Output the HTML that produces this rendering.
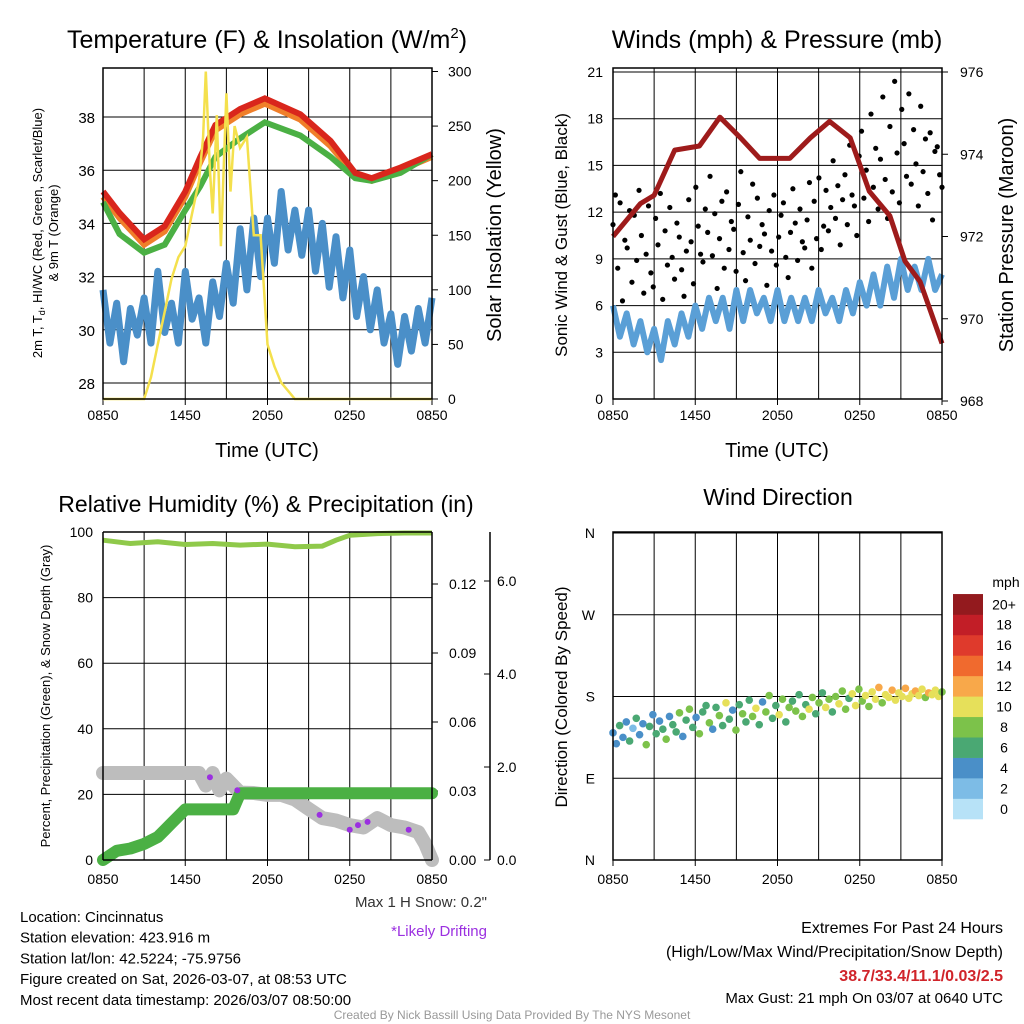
<!DOCTYPE html>
<html><head><meta charset="utf-8">
<style>
html,body{margin:0;padding:0;background:#fff;}
svg{display:block;font-family:"Liberation Sans",Arial,sans-serif;}
</style></head>
<body>
<svg id="c" width="1024" height="1024" viewBox="0 0 1024 1024" xmlns="http://www.w3.org/2000/svg">
<rect width="1024" height="1024" fill="#fff"/>
<g id="g"></g>
</svg>
<script>
// ---- data (hours since 0850 UTC, 0..24) ----
const xTicks=["0850","1450","2050","0250","0850"];
const tempTicks=[28,30,32,34,36,38];
const solarTicks=[0,50,100,150,200,250,300];
const tempT=[0,1.2,3,4.5,6,7.1,8.2,10,11.8,14.4,16.6,18.4,19.6,21.7,24];
const tempRed=[35.2,34.4,33.4,33.9,35.2,36.5,37.7,38.3,38.7,38.1,37.1,35.9,35.7,36.1,36.6];
const tempOrange=[35.0,34.2,33.2,33.7,35.0,36.3,37.5,38.1,38.5,37.9,36.9,35.8,35.6,36.0,36.5];
const tempGreen=[34.8,33.6,32.9,33.2,34.5,35.4,36.5,37.2,37.8,37.3,36.5,35.7,35.6,35.9,36.6];
const dewT=[31.5,29.5,31,28.8,30.8,29.8,31.2,29.5,32.2,29.9,31,29.5,32.2,30.4,31.2,29.5,31.8,30.5,32.5,31,33.8,31.5,34.2,32,34.2,32.5,35.2,33,34.5,32.8,34.5,32.2,34,31.6,33.5,31.2,33,30.5,32,30,31.5,29.5,30.6,28.7,30.5,29.2,30.8,29.5,31.2];
const solarT=[0,3,3.5,4,4.5,5,5.5,6,6.5,7,7.3,7.5,7.8,8,8.3,8.6,9,9.3,9.6,10,10.5,11,11.5,12,12.5,13,14,24];
const solar=[0,0,20,50,80,110,130,140,170,200,240,300,210,170,260,140,280,190,250,230,240,150,150,50,30,15,0,0];
const windTicks=[0,3,6,9,12,15,18,21];
const presTicks=[968,970,972,974,976];
const windSpd=[6,4,5.5,3.5,5,3,4.5,2.5,5,3.5,5.5,4,6,4.5,6.5,5,6.5,4.5,7,5,7,5.5,6.5,5,7,5,6.5,5,6.5,5,7,5.5,6.5,5,7,5.5,7.5,6,8,6,8.5,6.5,9,7,8.5,7,9,7,8];
const gusts=[11.2,13.1,8.4,12.6,6.3,10.2,9.7,12.1,7.5,11.8,8.9,13.4,10.5,6.8,9.3,12.4,8.1,7.2,11.6,9.9,13.2,6.4,10.8,8.6,12.3,9.1,7.7,11.3,10.4,8.3,6.6,9.5,12.8,10.1,7.4,13.6,11.1,9.3,8.8,12.2,10.7,14.3,9.2,11.9,7.1,10.3,12.7,8.4,13.3,9.6,11.4,10.9,8.2,12.5,14.6,9.4,7.6,11.7,10.2,13.8,8.7,12.9,9.8,11.2,10.6,7.3,12.1,9.5,13.1,8.6,10.4,11.8,12.6,9.1,7.8,10.7,13.5,11.3,8.9,12.2,10.1,9.7,11.5,13.9,8.4,12.7,10.3,14.2,9.6,11.1,13.4,10.8,12.3,15.3,11.6,13.7,9.9,12.8,14.4,11.2,16.3,13.1,12.4,10.5,15.6,17.2,12.9,14.7,11.4,18.3,13.6,16.1,12.2,15.4,19.4,14.1,11.6,17.5,13.3,20.4,15.8,12.6,18.6,16.4,14.3,19.6,13.8,17.3,15.1,12.4,18.8,14.6,16.7,13.2,17.1,11.5,15.9,16.2,14.4,13.6];
const presT=[0,2,3,4.5,6.3,7.8,9.3,10.7,12.9,14.4,15.8,17.3,18.7,20.2,21.3,22.4,24];
const pres=[972.0,972.8,973.0,974.1,974.2,974.9,974.4,973.9,973.9,974.4,974.8,974.4,973.1,972.5,971.4,970.9,969.4];
const rhTicks=[0,20,40,60,80,100];
const precipTicks=["0.00","0.03","0.06","0.09","0.12"];
const snowTicks=["0.0","2.0","4.0","6.0"];
const rhT=[0,2,4,6,8,10,12,14,16,17,18,20,22,24];
const rh=[97.5,96.5,97,96.2,96.5,96,96.3,95.5,95.7,97.5,99,99.5,99.7,99.7];
const precipT=[0,0.5,1,2,3,4,4.5,5,6,9.5,10,24];
const precip=[0,0.002,0.004,0.005,0.007,0.01,0.013,0.016,0.022,0.022,0.029,0.029];
const snowT=[0,7,7.5,8,8.5,9,10,11,12,13,14,15,16,17,18,19,20,21,22,23,23.5,24];
const snow=[1.87,1.87,1.6,1.87,1.5,1.75,1.45,1.44,1.4,1.4,1.3,1.1,0.9,0.85,0.75,0.7,0.9,0.75,0.7,0.6,0.35,0.0];
const driftT=[7.8,9.8,15.8,18.0,18.6,19.3,22.3];
const driftV=[1.78,1.5,0.97,0.65,0.75,0.82,0.65];
const dirTicks=["N","E","S","W","N"];
const dirs=[140,128,148,135,152,131,145,156,138,150,127,147,160,139,153,144,133,158,149,141,162,136,154,166,146,157,139,163,170,151,144,168,159,148,173,155,165,143,171,161,152,176,158,167,149,174,163,181,156,170,160,177,152,168,175,164,182,158,171,166,179,161,173,184,168,177,163,180,172,186,166,178,183,170,188,175,181,169,185,177,190,173,182,179,187,176,184,180,189,178,183,186,181,188,179,184,182,187,180,185];
const spds=[4,3,5,4,3,5,2,6,3,4,7,5,4,6,3,5,8,4,6,5,7,4,6,8,5,3,7,6,5,8,4,6,7,5,9,6,4,7,5,8,6,5,7,9,6,4,8,7,5,6,9,7,5,8,6,7,5,8,6,9,7,5,8,6,9,7,6,8,9,7,8,6,9,10,8,7,9,8,10,9,11,8,10,9,11,10,9,10,11,9,10,11,9,10,8,11,9,10,9,8];
const cbLabels=["0","2","4","6","8","10","12","14","16","18","20+"];
const cbColors=["#b7e2f7","#7dbce6","#4a8fc8","#4aa873","#7cc24a","#e6e05a","#f8a84a","#f06a2e","#df3a2c","#c21e27","#931a1e"];

const NS="http://www.w3.org/2000/svg";
const G=document.getElementById('g');
function el(tag,attrs,parent){const e=document.createElementNS(NS,tag);for(const k in attrs)e.setAttribute(k,attrs[k]);(parent||G).appendChild(e);return e;}
function txt(s,x,y,size,anchor,extra){const e=el('text',Object.assign({x:x,y:y,'font-size':size,'text-anchor':anchor||'start',fill:'#000'},extra||{}));e.textContent=s;return e;}
function lin(a,b,c,d){return v=>c+(v-a)*(d-c)/(b-a);}
function poly(ts,vs,fx,fy){return ts.map((t,i)=>fx(t).toFixed(1)+','+fy(vs[i]).toFixed(1)).join(' ');}
function idx(n){return Array.from({length:n},(_,i)=>i*24/(n-1));}

function frame(x0,y0,x1,y1,name){
  const f=el('rect',{x:x0,y:y0,width:x1-x0,height:y1-y0,fill:'none',stroke:'#000','stroke-width':1.5});
  
  
}
function xAxis(x0,x1,y1,y0,labelY){
  const fx=lin(0,24,x0,x1);
  for(let h=3;h<24;h+=3){el('line',{x1:fx(h),x2:fx(h),y1:y0,y2:y1,stroke:'#000','stroke-width':1});}
  xTicks.forEach((s,i)=>{const t=txt(s,fx(i*6),labelY,14,'middle');
    
    
    el('line',{x1:fx(i*6),x2:fx(i*6),y1:y1,y2:y1+6,stroke:'#000'});});
  return fx;
}

// ===== Panel 1 =====
(function(){
  const x0=103,x1=432,y0=68,y1=399;
  const fx=xAxis(x0,x1,y1,y0,420);
  const fy=lin(28,38,383,117);
  const fs=lin(0,300,399,71.5);
  tempTicks.forEach(v=>{el('line',{x1:x0,x2:x1,y1:fy(v),y2:fy(v),stroke:'#000'});
    const t=txt(String(v),x0-8,fy(v)+6,15,'end');});
  solarTicks.forEach(v=>{const t=txt(String(v),x1+16,fs(v)+5,14,'start');
    el('line',{x1:x1,x2:x1+6,y1:fs(v),y2:fs(v),stroke:'#000'});});
  const d=el('polyline',{points:poly(idx(dewT.length),dewT,fx,fy),fill:'none',stroke:'#4a8fc8','stroke-width':7,'stroke-linejoin':'round'});
  
  const o=el('polyline',{points:poly(tempT,tempOrange,fx,fy),fill:'none',stroke:'#f07f2a','stroke-width':6});
  
  const g=el('polyline',{points:poly(tempT,tempGreen,fx,fy),fill:'none',stroke:'#4bb044','stroke-width':6});
  
  const r=el('polyline',{points:poly(tempT,tempRed,fx,fy),fill:'none',stroke:'#d9261c','stroke-width':6});
  
  const s=el('polyline',{points:poly(solarT,solar,fx,fs),fill:'none',stroke:'#f4e04d','stroke-width':2.5});
  
  frame(x0,y0,x1,y1,'temperature-plot-frame');
  const tt=el('text',{x:267,y:48,'font-size':25,'text-anchor':'middle'});tt.innerHTML='Temperature (F) &amp; Insolation (W/m<tspan dy="-10" font-size="15">2</tspan><tspan dy="10">)</tspan>';
  
  const xl=txt('Time (UTC)',267,457,20,'middle');
  const yl=el('text',{transform:'translate(42,233) rotate(-90)','font-size':13,'text-anchor':'middle'});
  yl.innerHTML='2m T, T<tspan dy="3" font-size="9">d</tspan><tspan dy="-3">, HI/WC (Red, Green, Scarlet/Blue)</tspan>';
  
  const yl2=txt('& 9m T (Orange)',0,0,13,'middle',{transform:'translate(58,233) rotate(-90)'});
  
  const yr=txt('Solar Insolation (Yellow)',0,0,20,'middle',{transform:'translate(501,235) rotate(-90)'});
  
})();

// ===== Panel 2 =====
(function(){
  const x0=613,x1=942,y0=68,y1=399;
  const fx=xAxis(x0,x1,y1,y0,420);
  const fy=lin(0,21,399,72);
  const fp=lin(968,976,401,72);
  windTicks.forEach(v=>{el('line',{x1:x0,x2:x1,y1:fy(v),y2:fy(v),stroke:'#000'});
    const t=txt(String(v),x0-10,fy(v)+5,14,'end');});
  presTicks.forEach(v=>{const t=txt(String(v),x1+18,fp(v)+5,14,'start');
    el('line',{x1:x1,x2:x1+6,y1:fp(v),y2:fp(v),stroke:'#000'});});
  const w=el('polyline',{points:poly(idx(windSpd.length),windSpd,fx,fy),fill:'none',stroke:'#5a9fd6','stroke-width':6,'stroke-linejoin':'round'});
  
  const gt=idx(gusts.length);
  gusts.forEach((v,i)=>{const c=el('circle',{cx:fx(gt[i]),cy:fy(v),r:2.6,fill:'#000'});
    });
  const p=el('polyline',{points:poly(presT,pres,fx,fp),fill:'none',stroke:'#9e1b1b','stroke-width':5,'stroke-linejoin':'round'});
  
  frame(x0,y0,x1,y1,'winds-plot-frame');
  const t=txt('Winds (mph) & Pressure (mb)',777,48,25,'middle');
  const xl=txt('Time (UTC)',777,457,20,'middle');
  const yl=txt('Sonic Wind & Gust (Blue, Black)',0,0,17,'middle',{transform:'translate(567,235) rotate(-90)'});
  
  const yr=txt('Station Pressure (Maroon)',0,0,20,'middle',{transform:'translate(1013,235) rotate(-90)'});
  
})();

// ===== Panel 3 =====
(function(){
  const x0=103,x1=432,y0=532,y1=860;
  const fx=xAxis(x0,x1,y1,y0,884);
  const fy=lin(0,100,860,532);
  const fpr=lin(0,0.03,860,791);
  const fsn=lin(0,2,860,767);
  rhTicks.forEach(v=>{el('line',{x1:x0,x2:x1,y1:fy(v),y2:fy(v),stroke:'#000'});
    const t=txt(String(v),x0-10,fy(v)+5,14,'end');});
  precipTicks.forEach(s=>{const v=parseFloat(s);const t=txt(s,449,fpr(v)+5,14,'start');
    el('line',{x1:x1,x2:x1+6,y1:fpr(v),y2:fpr(v),stroke:'#000'});});
  el('line',{x1:490,x2:490,y1:532,y2:860,stroke:'#000','stroke-width':1.5});
  snowTicks.forEach(s=>{const v=parseFloat(s);const t=txt(s,497,fsn(v)+5,14,'start');
    el('line',{x1:484,x2:490,y1:fsn(v),y2:fsn(v),stroke:'#000'});});
  const sn=el('polyline',{points:poly(snowT,snow,fx,fsn),fill:'none',stroke:'#bdbdbd','stroke-width':14,'stroke-linejoin':'round','stroke-linecap':'round'});
  
  const pr=el('polyline',{points:poly(precipT,precip,fx,fpr),fill:'none',stroke:'#4bb044','stroke-width':12,'stroke-linejoin':'round','stroke-linecap':'round'});
  
  driftT.forEach((t,i)=>{const c=el('circle',{cx:fx(t),cy:fsn(driftV[i]),r:3,fill:'#9b30e0'});
    });
  const r=el('polyline',{points:poly(rhT,rh,fx,fy),fill:'none',stroke:'#8fc94a','stroke-width':5});
  
  el('line',{x1:x0,x2:x0,y1:y0,y2:y1,stroke:'#000','stroke-width':1.5});
  el('line',{x1:x1,x2:x1,y1:y0,y2:y1,stroke:'#000','stroke-width':1.5});
  el('line',{x1:x0,x2:x1,y1:y1,y2:y1,stroke:'#000','stroke-width':1.5});
  el('line',{x1:x0,x2:x1,y1:y0,y2:y0,stroke:'#000','stroke-width':1.5});
  const t=txt('Relative Humidity (%) & Precipitation (in)',266,512,23,'middle');
  const yl=txt('Percent, Precipitation (Green), & Snow Depth (Gray)',0,0,13,'middle',{transform:'translate(50,696) rotate(-90)'});
  
})();

// ===== Panel 4 =====
(function(){
  const x0=613,x1=942,y0=532,y1=860;
  const fx=xAxis(x0,x1,y1,y0,884);
  const fd=lin(0,360,860,533);
  dirTicks.forEach((s,i)=>{const v=i*90;el('line',{x1:x0,x2:x1,y1:fd(v),y2:fd(v),stroke:'#000'});
    const t=txt(s,x0-18,fd(v)+5,14,'end');});
  const dt=idx(dirs.length);
  dirs.forEach((v,i)=>{const k=Math.min(10,Math.round(spds[i]/2));
    const c=el('circle',{cx:fx(dt[i]),cy:fd(v),r:3.8,fill:cbColors[k]});
    });
  frame(x0,y0,x1,y1,'direction-plot-frame');
  const t=txt('Wind Direction',778,505,23,'middle');
  const yl=txt('Direction (Colored By Speed)',0,0,17,'middle',{transform:'translate(567,697) rotate(-90)'});
  
  const u=txt('mph',1006,587,14,'middle');
  const h=20.45;
  cbLabels.forEach((s,i)=>{const y=819-(i+1)*h;
    const r=el('rect',{x:953,y:y,width:30,height:h+0.3,fill:cbColors[i]});
    
    const l=txt(s,1004,y+h/2+5,14,'middle');});
})();

// ===== Text block =====
(function(){
  const left=["Location: Cincinnatus","Station elevation: 423.916 m","Station lat/lon: 42.5224; -75.9756","Figure created on Sat, 2026-03-07, at 08:53 UTC","Most recent data timestamp: 2026/03/07 08:50:00"];
  left.forEach((s,i)=>{const t=txt(s,20,922+i*20.7,15,'start');});
  let t=txt('Max 1 H Snow: 0.2"',487,907,15,'end',{fill:'#333'});
  t=txt('*Likely Drifting',487,936,15,'end',{fill:'#9b30e0'});
  t=txt('Extremes For Past 24 Hours',1003,933,16,'end');
  t=txt('(High/Low/Max Wind/Precipitation/Snow Depth)',1003,957,16,'end');
  t=txt('38.7/33.4/11.1/0.03/2.5',1003,981,16,'end',{fill:'#d0242a','font-weight':'bold'});
  t=txt('Max Gust: 21 mph On 03/07 at 0640 UTC',1003,1003,15,'end');
  t=txt('Created By Nick Bassill Using Data Provided By The NYS Mesonet',512,1019,12,'middle',{fill:'#999'});
})();
</script>
</body></html>
